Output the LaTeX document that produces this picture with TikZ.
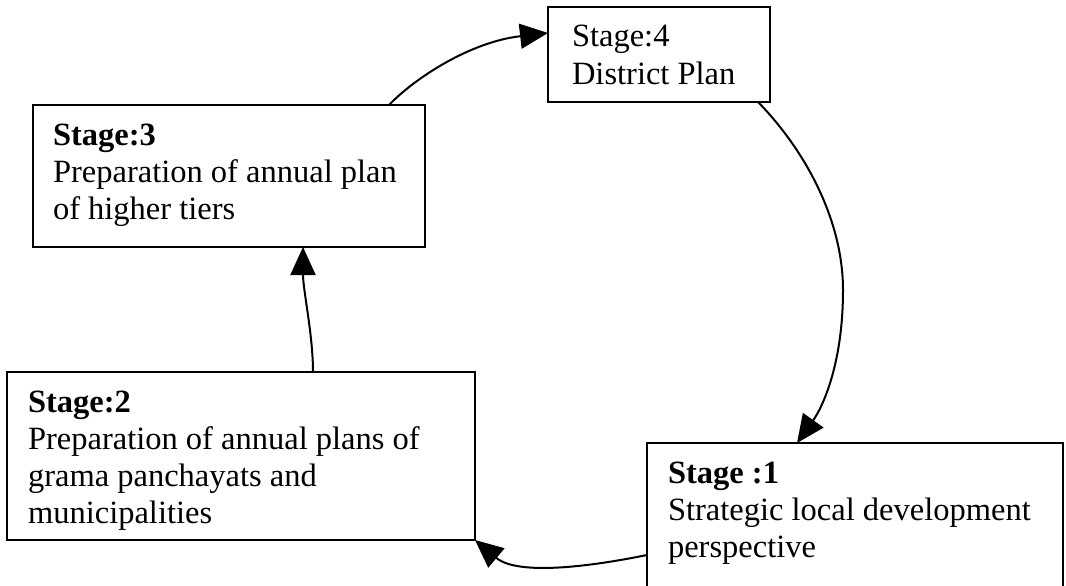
\documentclass[tikz,border=0pt]{standalone}
\usepackage{fontspec}
\setmainfont{Liberation Serif}
\usetikzlibrary{arrows.meta}

\tikzset{
  stagebox/.style={draw, line width=2pt, anchor=north west, inner xsep=21pt,
    inner ysep=0pt, outer sep=0pt, font=\fontsize{32.5}{37.3}\selectfont},
  flow/.style={line width=2pt, -{Triangle[length=28pt,width=25pt]}},
}
% box body: width, height, text (first baseline 40pt below the top edge)
\newcommand\stagetext[3]{\parbox[t][#2][t]{#1}{\rule{0pt}{40pt}#3}}

\begin{document}
\begin{tikzpicture}[x=1pt,y=1pt]
\useasboundingbox (0,0) rectangle (1066,-586);
\clip (0,0) rectangle (1066,-586);

\node[stagebox, inner xsep=24pt] (s4) at (548,-7)
  {\stagetext{174pt}{95pt}{Stage:4\\District Plan}};
\node[stagebox, inner xsep=20pt] (s3) at (33,-105)
  {\stagetext{352pt}{142pt}{\textbf{Stage:3}\\Preparation of annual plan\\of higher tiers}};
\node[stagebox] (s2) at (7,-372)
  {\stagetext{426pt}{168pt}{\textbf{Stage:2}\\Preparation of annual plans of\\grama panchayats and\\municipalities}};
\node[stagebox] (s1) at (647,-443)
  {\stagetext{374pt}{160pt}{\textbf{Stage :1}\\Strategic local development\\perspective}};

% the planning cycle
\draw[flow] ([xshift=99pt]s4.south) .. controls (805,-150) and (843,-220) .. (843,-290)
  .. controls (843,-365) and (822,-408) .. ([xshift=-58pt]s1.north);
\draw[flow] ([yshift=-112pt]s1.north west) .. controls (598,-565) and (519,-577) .. (s2.south east);
\draw[flow] ([xshift=72pt]s2.north) .. controls (313,-335) and (303,-290) .. ([xshift=74pt]s3.south);
\draw[flow] ([xshift=160pt]s3.north) .. controls (415,-78) and (470,-42) .. ([yshift=21.5pt]s4.west);
\end{tikzpicture}
\end{document}
